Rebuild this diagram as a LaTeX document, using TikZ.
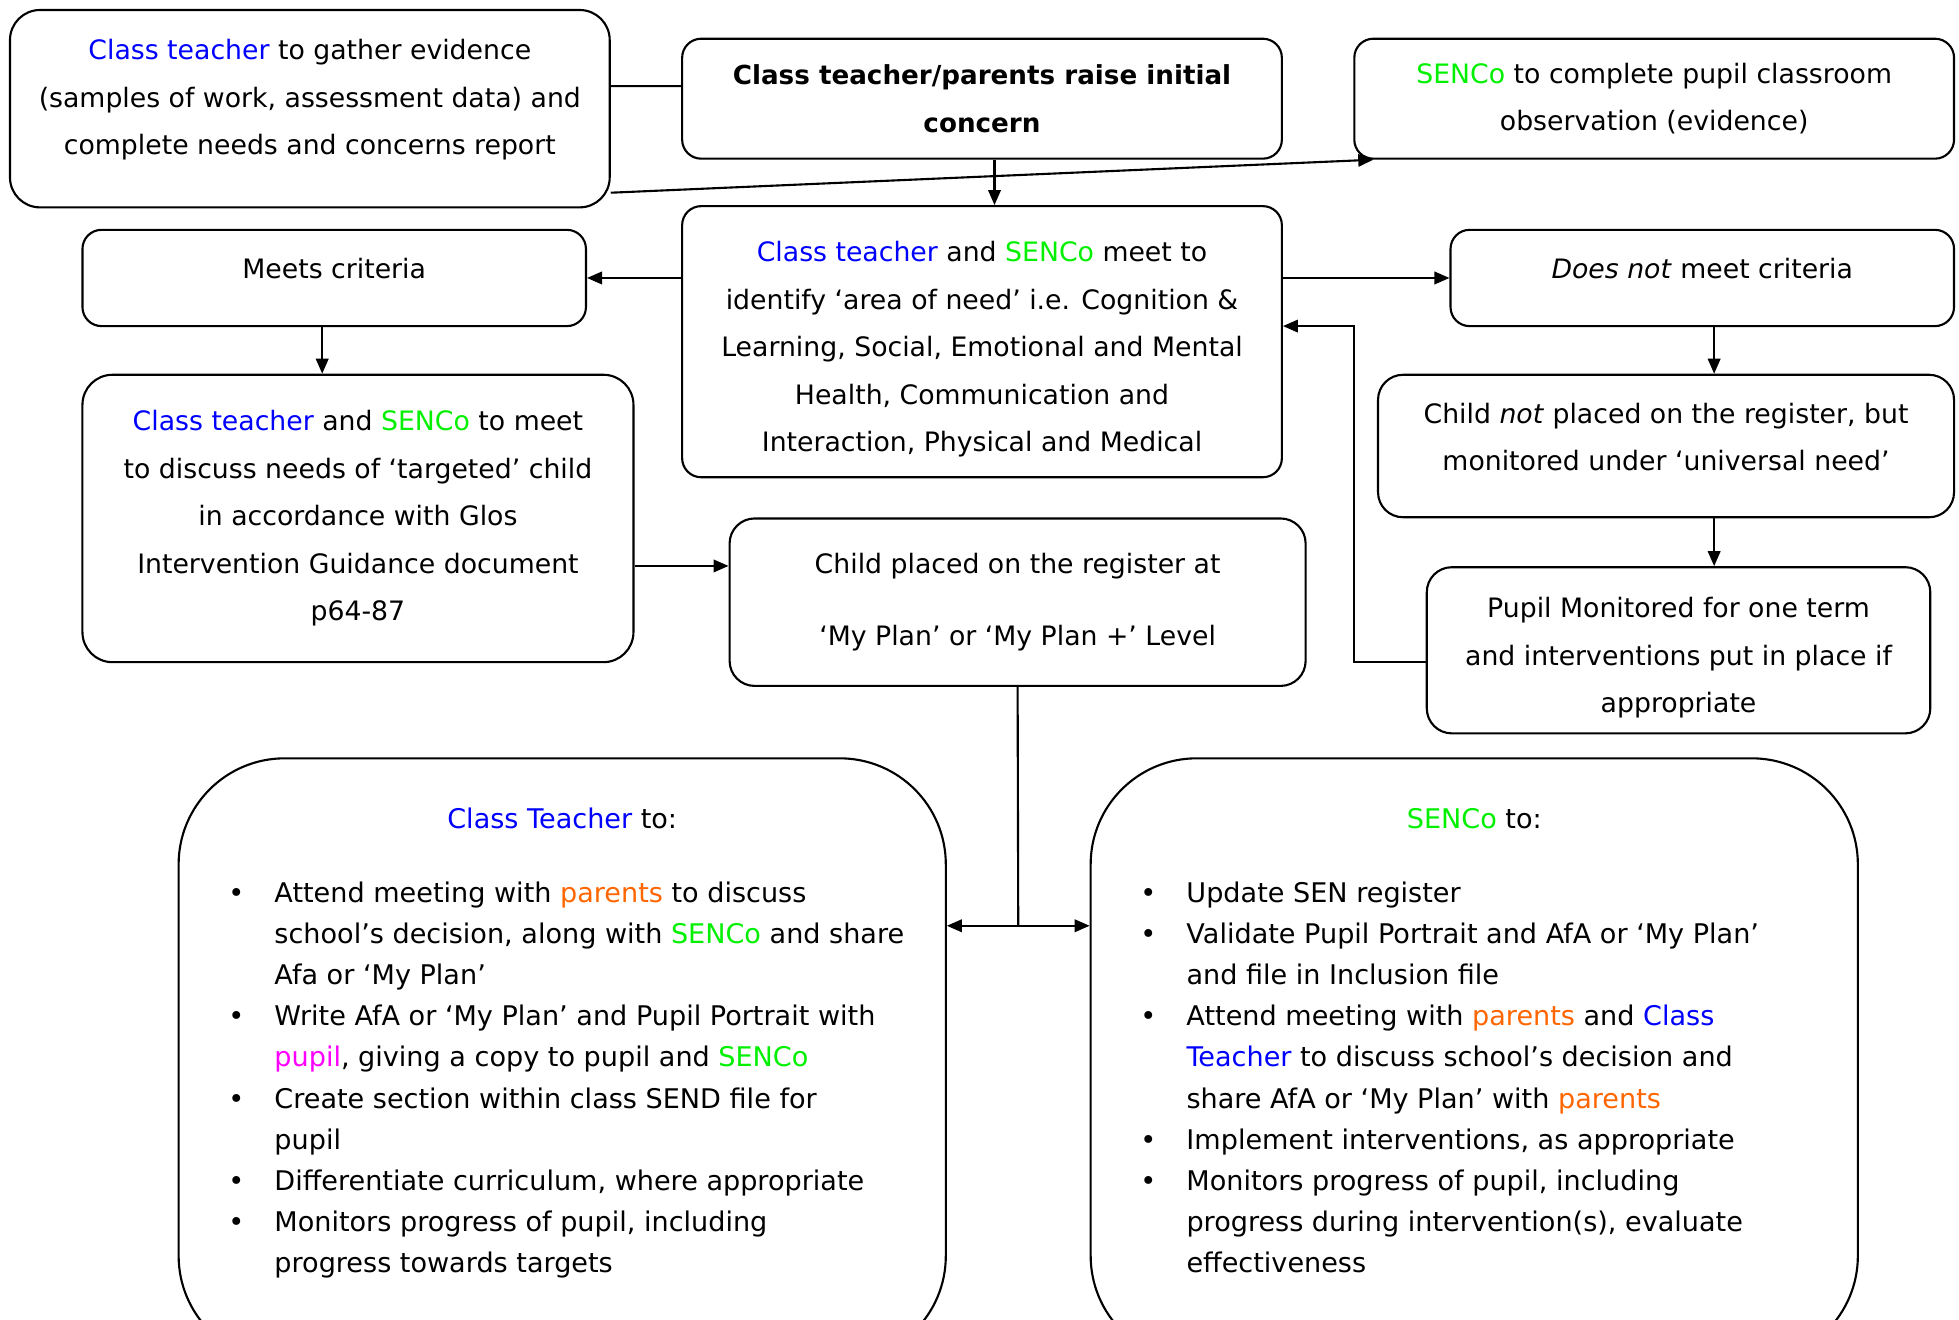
\documentclass[tikz,border=0pt]{standalone}
\usepackage{fontspec}
\setmainfont{DejaVu Sans}
\usetikzlibrary{arrows.meta}

\definecolor{ctblue}{RGB}{0,0,255}
\definecolor{sencogreen}{RGB}{0,240,0}
\definecolor{parentorange}{RGB}{255,102,0}
\definecolor{pupilpink}{RGB}{255,0,255}

\newcommand{\blu}[1]{\textcolor{ctblue}{#1}}
\newcommand{\grn}[1]{\textcolor{sencogreen}{#1}}
\newcommand{\orn}[1]{\textcolor{parentorange}{#1}}
\newcommand{\pnk}[1]{\textcolor{pupilpink}{#1}}
\newcommand{\bul}{\makebox[4.6mm][l]{\textbullet}}
\newcommand{\ind}{\hspace*{4.6mm}}

\tikzset{
  box/.style={draw, rounded corners=1.9mm, align=center, inner sep=0pt,
    font=\fontsize{7.6}{13.5}\selectfont},
  boxtext/.style={align=center, inner sep=0pt, font=\fontsize{7.6}{13.5}\selectfont},
  bigbox/.style={draw, rounded corners=10.6mm, minimum width=76.69mm, minimum height=60.33mm},
  listtext/.style={align=left, inner sep=0pt, anchor=north west,
    font=\fontsize{7.7}{11.7}\selectfont},
  headtext/.style={inner sep=0pt, font=\fontsize{7.7}{11.7}\selectfont}
}

\begin{document}
\begin{tikzpicture}[x=0.1249mm, y=-0.1249mm, >={Triangle[length=1.5mm, width=1.25mm]}, semithick]
	\useasboundingbox (0,0) rectangle (1568,1056);
	\clip (0,0) rectangle (1568,1056);
	
	% top row
	\node[box, rounded corners=3mm, minimum width=59.95mm, minimum height=19.73mm] (gather) at (248,87) {};
	\node[boxtext] (gathertext) at (248,80)
		{\blu{Class teacher} to gather evidence\\(samples of work, assessment data) and\\complete needs and concerns report};
	\node[box, font=\fontsize{7.45}{13.5}\selectfont\bfseries, minimum width=59.95mm, minimum height=11.99mm] (concern) at (786,79)
		{Class teacher/parents raise initial\\concern};
	\node[box, minimum width=59.95mm, minimum height=11.99mm] (observe) at (1324,79)
		{\grn{SENCo} to complete pupil classroom\\observation (evidence)};
	
	% middle
	\node[box, text depth=2mm, minimum width=50.33mm, minimum height=9.62mm] (meets) at (267.5,222.5) {Meets criteria};
	\node[box, minimum width=59.95mm, minimum height=27.1mm] (identify) at (786,273.5) {};
	\node[boxtext] (identifytext) at (786,279.5)
		{\blu{Class teacher} and \grn{SENCo} meet to\\identify ‘area of need’ i.e. Cognition \&\\Learning, Social, Emotional and Mental\\Health, Communication and\\Interaction, Physical and Medical};
	\node[box, text depth=2mm, minimum width=50.33mm, minimum height=9.62mm] (notmeets) at (1362.5,222.5) {\textit{Does not} meet criteria};
	\node[box, rounded corners=3mm, minimum width=55.08mm, minimum height=28.73mm] (targeted) at (286.5,415)
		{\blu{Class teacher} and \grn{SENCo} to meet\\to discuss needs of ‘targeted’ child\\in accordance with Glos\\Intervention Guidance document\\p64-87};
	\node[box, rounded corners=2.5mm, minimum width=57.58mm, minimum height=14.24mm] (universal) at (1333.5,357) {};
	\node[boxtext] (universaltext) at (1333.5,350)
		{Child \textit{not} placed on the register, but\\monitored under ‘universal need’};
	\node[box, rounded corners=2.5mm, minimum width=57.58mm, minimum height=16.74mm] (register) at (814.5,482)
		{Child placed on the register at\\[2.5mm]‘My Plan’ or ‘My Plan +’ Level};
	\node[box, rounded corners=2.5mm, minimum width=50.33mm, minimum height=16.61mm] (oneterm) at (1343.5,520.5) {};
	\node[boxtext] (onetermtext) at (1343.5,526.5)
		{Pupil Monitored for one term\\and interventions put in place if\\appropriate};
	
	% bottom boxes
	\node[bigbox] (teacher) at (450,848.5) {};
	\node[headtext] (teacherhead) at (450,655) {\blu{Class Teacher} to:};
	\node[listtext] (teacherlist) at (182,705)
		{\bul Attend meeting with \orn{parents} to discuss\\
		\ind school’s decision, along with \grn{SENCo} and share\\
		\ind Afa or ‘My Plan’\\
		\bul Write AfA or ‘My Plan’ and Pupil Portrait with\\
		\ind \pnk{pupil}, giving a copy to pupil and \grn{SENCo}\\
		\bul Create section within class SEND file for\\
		\ind pupil\\
		\bul Differentiate curriculum, where appropriate\\
		\bul Monitors progress of pupil, including\\
		\ind progress towards targets};
	\node[bigbox] (senco) at (1180,848.5) {};
	\node[headtext] (sencohead) at (1180,655) {\grn{SENCo} to:};
	\node[listtext] (sencolist) at (912,705)
		{\bul Update SEN register\\
		\bul Validate Pupil Portrait and AfA or ‘My Plan’\\
		\ind and file in Inclusion file\\
		\bul Attend meeting with \orn{parents} and \blu{Class}\\
		\ind \blu{Teacher} to discuss school’s decision and\\
		\ind share AfA or ‘My Plan’ with \orn{parents}\\
		\bul Implement interventions, as appropriate\\
		\bul Monitors progress of pupil, including\\
		\ind progress during intervention(s), evaluate\\
		\ind effectiveness};
	
	\coordinate (rcol) at (1372,0);
	\coordinate (gy) at (0,453);
	\coordinate (back) at (1084,261);
	\coordinate (split) at (815,741);
	
	\draw ([yshift=2.25mm]gather.east) -- ([yshift=1.25mm]concern.west);
	\draw[->] ([yshift=-8.4mm]gather.east) -- ([xshift=2mm]observe.south west);
	\draw[->] ([xshift=1.25mm]concern.south) -- ([xshift=1.25mm]identify.north);
	\draw[->] (identify.west |- meets.east) -- (meets.east);
	\draw[->] (identify.east |- notmeets.west) -- (notmeets.west);
	\draw[->] ([xshift=-1.2mm]meets.south) -- ([xshift=-1.2mm]meets.south |- targeted.north);
	\draw[->] (notmeets.south -| rcol) -- (universal.north -| rcol);
	\draw[->] (universal.south -| rcol) -- (oneterm.north -| rcol);
	\draw[->] ([yshift=-1.2mm]oneterm.west) -| (back) -- (back -| identify.east);
	\draw[->] (targeted.east |- gy) -- (register.west |- gy);
	\draw (register.south) -- (split);
	\draw[->] (split) -- (split -| teacher.east);
	\draw[->] (split) -- (split -| senco.west);
\end{tikzpicture}
\end{document}
